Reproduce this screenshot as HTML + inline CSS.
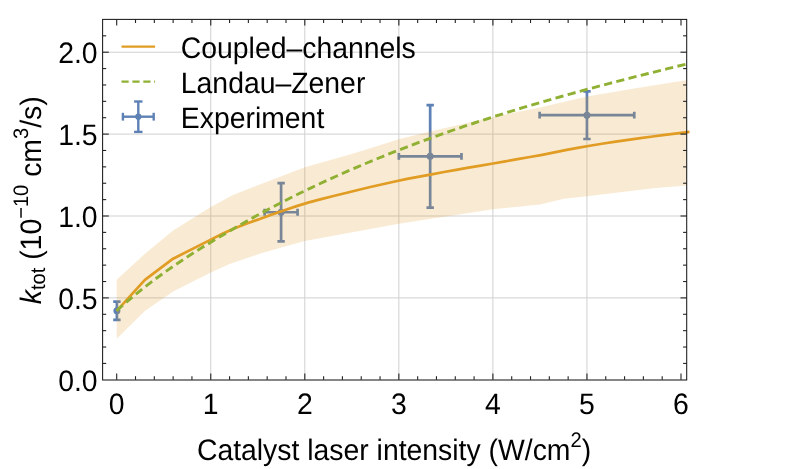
<!DOCTYPE html>
<html><head><meta charset="utf-8"><title>chart</title>
<style>html,body{margin:0;padding:0;background:#fff;}body{width:789px;height:469px;overflow:hidden;position:relative;font-family:"Liberation Sans",sans-serif;}</style></head>
<body>
<svg width="789" height="469" viewBox="0 0 789 469" style="position:absolute;left:0;top:0">
<defs><clipPath id="c"><rect x="102.60" y="19.40" width="584.70" height="360.40"/></clipPath></defs>
<rect width="789" height="469" fill="#fff"/>
<g stroke="#d0d0d0" stroke-width="1" fill="none"><line x1="210.75" x2="210.75" y1="19.40" y2="379.80"/><line x1="304.80" x2="304.80" y1="19.40" y2="379.80"/><line x1="398.85" x2="398.85" y1="19.40" y2="379.80"/><line x1="492.90" x2="492.90" y1="19.40" y2="379.80"/><line x1="586.95" x2="586.95" y1="19.40" y2="379.80"/><line x1="102.60" x2="686.70" y1="297.90" y2="297.90"/><line x1="102.60" x2="686.70" y1="216.00" y2="216.00"/><line x1="102.60" x2="686.70" y1="134.10" y2="134.10"/><line x1="102.60" x2="686.70" y1="52.20" y2="52.20"/></g>
<g clip-path="url(#c)">
<g stroke="#5E81B5" stroke-width="2.7" fill="none"><line x1="116.89" x2="116.89" y1="319.78" y2="301.62"/><line x1="113.19" x2="120.59" y1="319.78" y2="319.78"/><line x1="113.19" x2="120.59" y1="301.62" y2="301.62"/></g><circle cx="116.89" cy="310.70" r="3.5" fill="#5E81B5"/>
<g stroke="#5E81B5" stroke-width="2.7" fill="none"><line x1="281.10" x2="281.10" y1="241.39" y2="183.15"/><line x1="277.40" x2="284.80" y1="241.39" y2="241.39"/><line x1="277.40" x2="284.80" y1="183.15" y2="183.15"/><line x1="264.64" x2="297.56" y1="212.27" y2="212.27"/><line x1="264.64" x2="264.64" y1="208.87" y2="215.67"/><line x1="297.56" x2="297.56" y1="208.87" y2="215.67"/></g><circle cx="281.10" cy="212.27" r="3.5" fill="#5E81B5"/>
<g stroke="#5E81B5" stroke-width="2.7" fill="none"><line x1="430.17" x2="430.17" y1="207.53" y2="105.12"/><line x1="426.47" x2="433.87" y1="207.53" y2="207.53"/><line x1="426.47" x2="433.87" y1="105.12" y2="105.12"/><line x1="398.85" x2="461.49" y1="156.32" y2="156.32"/><line x1="398.85" x2="398.85" y1="152.92" y2="159.72"/><line x1="461.49" x2="461.49" y1="152.92" y2="159.72"/></g><circle cx="430.17" cy="156.32" r="3.5" fill="#5E81B5"/>
<g stroke="#5E81B5" stroke-width="2.7" fill="none"><line x1="586.95" x2="586.95" y1="139.01" y2="91.41"/><line x1="583.25" x2="590.65" y1="139.01" y2="139.01"/><line x1="583.25" x2="590.65" y1="91.41" y2="91.41"/><line x1="539.64" x2="634.26" y1="115.21" y2="115.21"/><line x1="539.64" x2="539.64" y1="111.81" y2="118.61"/><line x1="634.26" x2="634.26" y1="111.81" y2="118.61"/></g><circle cx="586.95" cy="115.21" r="3.5" fill="#5E81B5"/>
<polygon points="116.7,279.8 144.9,253.8 173.1,230.6 210.8,206.9 232.9,194.9 304.8,167.3 351.8,153.9 398.8,139.3 430.2,131.5 492.9,116.9 539.9,107.4 587.0,96.4 634.0,88.6 681.0,81.1 686.9,80.2 686.9,185.6 653.4,188.2 587.0,196.2 563.9,198.7 539.9,204.4 492.9,209.3 398.8,223.7 304.8,241.1 281.3,247.4 261.3,253.3 229.6,264.1 210.8,272.6 173.1,291.5 144.9,311.1 116.7,338.7" fill="#E19C24" fill-opacity="0.2"/>
</g>
<polyline points="116.7,310.8 144.9,279.8 173.1,258.7 210.8,239.6 223.0,233.5 235.3,228.0 247.6,223.2 259.8,218.9 272.1,214.6 284.4,210.3 296.7,206.1 308.9,202.4 321.2,199.1 333.5,196.0 345.8,193.0 358.0,190.0 370.3,187.0 382.6,184.2 394.9,181.5 407.1,178.9 419.4,176.6 431.7,174.3 444.0,172.0 456.2,169.9 468.5,167.7 480.8,165.6 493.1,163.5 505.3,161.3 517.6,159.2 529.9,157.0 542.2,154.8 554.4,152.4 566.7,149.9 579.0,147.6 591.3,145.5 603.5,143.5 615.8,141.6 628.1,139.8 640.4,138.1 652.6,136.5 664.9,134.9 677.2,133.4 689.5,131.9" fill="none" stroke="#E19C24" stroke-width="2.7" stroke-linejoin="round"/>
<g clip-path="url(#c)">
<polyline points="116.7,310.7 126.4,302.1 136.0,294.0 145.7,286.3 155.4,279.0 165.0,272.0 174.7,265.3 184.4,258.8 194.0,252.6 203.7,246.6 213.3,240.7 223.0,234.9 232.7,229.2 242.3,223.7 252.0,218.2 261.7,212.9 271.3,207.8 281.0,202.7 290.7,197.8 300.3,193.0 310.0,188.4 319.7,183.8 329.3,179.3 339.0,175.0 348.7,170.7 358.3,166.6 368.0,162.5 377.7,158.5 387.3,154.6 397.0,150.8 406.6,147.1 416.3,143.4 426.0,139.8 435.6,136.3 445.3,132.9 455.0,129.5 464.6,126.2 474.3,123.0 484.0,119.8 493.6,116.7 503.3,113.7 513.0,110.7 522.6,107.7 532.3,104.8 542.0,102.0 551.6,99.2 561.3,96.5 570.9,93.8 580.6,91.1 590.3,88.5 599.9,85.9 609.6,83.4 619.3,80.8 628.9,78.4 638.6,75.9 648.3,73.5 657.9,71.1 667.6,68.7 677.3,66.3 686.9,64.0" fill="none" stroke="#8FB032" stroke-width="2.9" stroke-dasharray="8.2 4.4"/>
</g>
<g stroke="#222" stroke-width="1.1" fill="none"><line x1="116.70" x2="116.70" y1="379.80" y2="373.60"/><line x1="116.70" x2="116.70" y1="19.40" y2="25.60"/><line x1="135.51" x2="135.51" y1="379.80" y2="376.20"/><line x1="135.51" x2="135.51" y1="19.40" y2="23.00"/><line x1="154.32" x2="154.32" y1="379.80" y2="376.20"/><line x1="154.32" x2="154.32" y1="19.40" y2="23.00"/><line x1="173.13" x2="173.13" y1="379.80" y2="376.20"/><line x1="173.13" x2="173.13" y1="19.40" y2="23.00"/><line x1="191.94" x2="191.94" y1="379.80" y2="376.20"/><line x1="191.94" x2="191.94" y1="19.40" y2="23.00"/><line x1="210.75" x2="210.75" y1="379.80" y2="373.60"/><line x1="210.75" x2="210.75" y1="19.40" y2="25.60"/><line x1="229.56" x2="229.56" y1="379.80" y2="376.20"/><line x1="229.56" x2="229.56" y1="19.40" y2="23.00"/><line x1="248.37" x2="248.37" y1="379.80" y2="376.20"/><line x1="248.37" x2="248.37" y1="19.40" y2="23.00"/><line x1="267.18" x2="267.18" y1="379.80" y2="376.20"/><line x1="267.18" x2="267.18" y1="19.40" y2="23.00"/><line x1="285.99" x2="285.99" y1="379.80" y2="376.20"/><line x1="285.99" x2="285.99" y1="19.40" y2="23.00"/><line x1="304.80" x2="304.80" y1="379.80" y2="373.60"/><line x1="304.80" x2="304.80" y1="19.40" y2="25.60"/><line x1="323.61" x2="323.61" y1="379.80" y2="376.20"/><line x1="323.61" x2="323.61" y1="19.40" y2="23.00"/><line x1="342.42" x2="342.42" y1="379.80" y2="376.20"/><line x1="342.42" x2="342.42" y1="19.40" y2="23.00"/><line x1="361.23" x2="361.23" y1="379.80" y2="376.20"/><line x1="361.23" x2="361.23" y1="19.40" y2="23.00"/><line x1="380.04" x2="380.04" y1="379.80" y2="376.20"/><line x1="380.04" x2="380.04" y1="19.40" y2="23.00"/><line x1="398.85" x2="398.85" y1="379.80" y2="373.60"/><line x1="398.85" x2="398.85" y1="19.40" y2="25.60"/><line x1="417.66" x2="417.66" y1="379.80" y2="376.20"/><line x1="417.66" x2="417.66" y1="19.40" y2="23.00"/><line x1="436.47" x2="436.47" y1="379.80" y2="376.20"/><line x1="436.47" x2="436.47" y1="19.40" y2="23.00"/><line x1="455.28" x2="455.28" y1="379.80" y2="376.20"/><line x1="455.28" x2="455.28" y1="19.40" y2="23.00"/><line x1="474.09" x2="474.09" y1="379.80" y2="376.20"/><line x1="474.09" x2="474.09" y1="19.40" y2="23.00"/><line x1="492.90" x2="492.90" y1="379.80" y2="373.60"/><line x1="492.90" x2="492.90" y1="19.40" y2="25.60"/><line x1="511.71" x2="511.71" y1="379.80" y2="376.20"/><line x1="511.71" x2="511.71" y1="19.40" y2="23.00"/><line x1="530.52" x2="530.52" y1="379.80" y2="376.20"/><line x1="530.52" x2="530.52" y1="19.40" y2="23.00"/><line x1="549.33" x2="549.33" y1="379.80" y2="376.20"/><line x1="549.33" x2="549.33" y1="19.40" y2="23.00"/><line x1="568.14" x2="568.14" y1="379.80" y2="376.20"/><line x1="568.14" x2="568.14" y1="19.40" y2="23.00"/><line x1="586.95" x2="586.95" y1="379.80" y2="373.60"/><line x1="586.95" x2="586.95" y1="19.40" y2="25.60"/><line x1="605.76" x2="605.76" y1="379.80" y2="376.20"/><line x1="605.76" x2="605.76" y1="19.40" y2="23.00"/><line x1="624.57" x2="624.57" y1="379.80" y2="376.20"/><line x1="624.57" x2="624.57" y1="19.40" y2="23.00"/><line x1="643.38" x2="643.38" y1="379.80" y2="376.20"/><line x1="643.38" x2="643.38" y1="19.40" y2="23.00"/><line x1="662.19" x2="662.19" y1="379.80" y2="376.20"/><line x1="662.19" x2="662.19" y1="19.40" y2="23.00"/><line x1="681.00" x2="681.00" y1="379.80" y2="373.60"/><line x1="681.00" x2="681.00" y1="19.40" y2="25.60"/><line x1="102.60" x2="106.20" y1="363.42" y2="363.42"/><line x1="686.70" x2="683.10" y1="363.42" y2="363.42"/><line x1="102.60" x2="106.20" y1="347.04" y2="347.04"/><line x1="686.70" x2="683.10" y1="347.04" y2="347.04"/><line x1="102.60" x2="106.20" y1="330.66" y2="330.66"/><line x1="686.70" x2="683.10" y1="330.66" y2="330.66"/><line x1="102.60" x2="106.20" y1="314.28" y2="314.28"/><line x1="686.70" x2="683.10" y1="314.28" y2="314.28"/><line x1="102.60" x2="108.80" y1="297.90" y2="297.90"/><line x1="686.70" x2="680.50" y1="297.90" y2="297.90"/><line x1="102.60" x2="106.20" y1="281.52" y2="281.52"/><line x1="686.70" x2="683.10" y1="281.52" y2="281.52"/><line x1="102.60" x2="106.20" y1="265.14" y2="265.14"/><line x1="686.70" x2="683.10" y1="265.14" y2="265.14"/><line x1="102.60" x2="106.20" y1="248.76" y2="248.76"/><line x1="686.70" x2="683.10" y1="248.76" y2="248.76"/><line x1="102.60" x2="106.20" y1="232.38" y2="232.38"/><line x1="686.70" x2="683.10" y1="232.38" y2="232.38"/><line x1="102.60" x2="108.80" y1="216.00" y2="216.00"/><line x1="686.70" x2="680.50" y1="216.00" y2="216.00"/><line x1="102.60" x2="106.20" y1="199.62" y2="199.62"/><line x1="686.70" x2="683.10" y1="199.62" y2="199.62"/><line x1="102.60" x2="106.20" y1="183.24" y2="183.24"/><line x1="686.70" x2="683.10" y1="183.24" y2="183.24"/><line x1="102.60" x2="106.20" y1="166.86" y2="166.86"/><line x1="686.70" x2="683.10" y1="166.86" y2="166.86"/><line x1="102.60" x2="106.20" y1="150.48" y2="150.48"/><line x1="686.70" x2="683.10" y1="150.48" y2="150.48"/><line x1="102.60" x2="108.80" y1="134.10" y2="134.10"/><line x1="686.70" x2="680.50" y1="134.10" y2="134.10"/><line x1="102.60" x2="106.20" y1="117.72" y2="117.72"/><line x1="686.70" x2="683.10" y1="117.72" y2="117.72"/><line x1="102.60" x2="106.20" y1="101.34" y2="101.34"/><line x1="686.70" x2="683.10" y1="101.34" y2="101.34"/><line x1="102.60" x2="106.20" y1="84.96" y2="84.96"/><line x1="686.70" x2="683.10" y1="84.96" y2="84.96"/><line x1="102.60" x2="106.20" y1="68.58" y2="68.58"/><line x1="686.70" x2="683.10" y1="68.58" y2="68.58"/><line x1="102.60" x2="108.80" y1="52.20" y2="52.20"/><line x1="686.70" x2="680.50" y1="52.20" y2="52.20"/><line x1="102.60" x2="106.20" y1="35.82" y2="35.82"/><line x1="686.70" x2="683.10" y1="35.82" y2="35.82"/></g>
<rect x="102.60" y="19.40" width="584.10" height="360.60" fill="none" stroke="#1a1a1a" stroke-width="1.05"/>
<line x1="121.5" x2="155.1" y1="46.7" y2="46.7" stroke="#E19C24" stroke-width="2.3"/>
<line x1="121.5" x2="155.1" y1="81.7" y2="81.7" stroke="#8FB032" stroke-width="2.3" stroke-dasharray="7.2 3.7"/>
<g stroke="#5E81B5" stroke-width="2.4" fill="none"><line x1="138.30" x2="138.30" y1="101.50" y2="131.90"/><line x1="134.10" x2="142.50" y1="101.50" y2="101.50"/><line x1="134.10" x2="142.50" y1="131.90" y2="131.90"/><line x1="122.90" x2="153.70" y1="116.70" y2="116.70"/><line x1="122.90" x2="122.90" y1="112.80" y2="120.60"/><line x1="153.70" x2="153.70" y1="112.80" y2="120.60"/></g><circle cx="138.30" cy="116.70" r="3.1" fill="#5E81B5"/>
<g font-family="Liberation Sans, sans-serif" font-size="29.6" fill="#000" text-rendering="geometricPrecision" opacity="0.999">
<text transform="translate(180.80,57.80) scale(0.9585,1)">Coupled–channels</text>
<text transform="translate(180.80,92.80) scale(0.9585,1)">Landau–Zener</text>
<text transform="translate(180.80,128.40) scale(0.9585,1)">Experiment</text>
<text transform="translate(97.60,391.00) scale(0.9585,1)" text-anchor="end">0.0</text>
<text transform="translate(97.60,309.10) scale(0.9585,1)" text-anchor="end">0.5</text>
<text transform="translate(97.60,227.20) scale(0.9585,1)" text-anchor="end">1.0</text>
<text transform="translate(97.60,145.30) scale(0.9585,1)" text-anchor="end">1.5</text>
<text transform="translate(97.60,63.40) scale(0.9585,1)" text-anchor="end">2.0</text>
<text transform="translate(116.70,414.00) scale(0.9585,1)" text-anchor="middle">0</text>
<text transform="translate(210.75,414.00) scale(0.9585,1)" text-anchor="middle">1</text>
<text transform="translate(304.80,414.00) scale(0.9585,1)" text-anchor="middle">2</text>
<text transform="translate(398.85,414.00) scale(0.9585,1)" text-anchor="middle">3</text>
<text transform="translate(492.90,414.00) scale(0.9585,1)" text-anchor="middle">4</text>
<text transform="translate(586.95,414.00) scale(0.9585,1)" text-anchor="middle">5</text>
<text transform="translate(681.00,414.00) scale(0.9585,1)" text-anchor="middle">6</text>
<text transform="translate(196.90,459.70) scale(0.9585,1)">Catalyst laser intensity (W/cm<tspan font-size="21.0" dy="-12.5">2</tspan><tspan dy="12.5">)</tspan></text>
<text transform="translate(40.60,304.30) rotate(-90) scale(0.9585,1)"><tspan font-style="italic">k</tspan><tspan font-size="21.0" dy="4.7">tot</tspan><tspan dy="-4.7"> (10</tspan><tspan font-size="21.0" dy="-12.5">−10</tspan><tspan dy="12.5"> cm</tspan><tspan font-size="21.0" dy="-12.5">3</tspan><tspan dy="12.5">/s)</tspan></text>
</g>
</svg>
</body></html>
